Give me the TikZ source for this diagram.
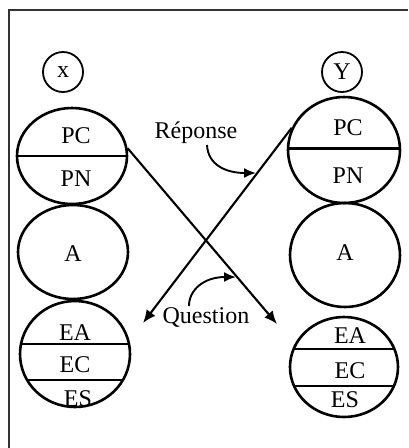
\documentclass[tikz,border=0pt]{standalone}
\usepackage{fontspec}
\setmainfont{Liberation Serif}
\usetikzlibrary{shapes.geometric,arrows.meta}
\begin{document}
\begin{tikzpicture}[x=1pt,y=-1pt,
  cell/.style={draw, ellipse, line width=2.6pt, inner sep=0pt},
  lbl/.style={font=\fontsize{24}{28}\selectfont, anchor=base, inner sep=0pt},
  agent/.style={draw, circle, line width=1.8pt, minimum size=40pt, inner sep=0pt,
                font=\fontsize{24}{28}\selectfont},
  flow/.style={line width=2.1pt, -{Latex[length=13pt,width=11pt]}},
  pointer/.style={line width=1.9pt, -{Latex[length=12pt,width=10pt]}},
  divider/.style={line width=2.4pt},
  frame/.style={line width=1.4pt, draw=black!80}]

\useasboundingbox (0,0) rectangle (408,448);

% open frame: top and left edges
\draw[frame] (9,448) -- (9,10) -- (408,10);

% the two speakers
\node[agent] (x) at (63,72) {x};
\node[agent] (y) at (342,72) {Y};

% left column
\node[cell, minimum width=110pt, minimum height=96pt] (lpc) at (72,156) {};
\node[cell, minimum width=110pt, minimum height=94pt] (la) at (73,252) {};
\node[cell, minimum width=110pt, minimum height=106pt] (le) at (75,354) {};

% right column
\node[cell, minimum width=112pt, minimum height=106pt] (rpc) at (344,150) {};
\node[cell, minimum width=110pt, minimum height=104pt] (ra) at (345,255) {};
\node[cell, minimum width=108pt, minimum height=100pt] (re) at (344,367) {};

% chords splitting the cells
\begin{scope}
  \clip (lpc.center) ellipse [x radius=55, y radius=48];
  \draw[divider] (0,156) -- (150,156);
\end{scope}
\begin{scope}
  \clip (le.center) ellipse [x radius=55, y radius=53];
  \draw[divider] (0,344) -- (150,344);
  \draw[divider] (0,380) -- (150,380);
\end{scope}
\begin{scope}
  \clip (rpc.center) ellipse [x radius=56, y radius=53];
  \draw[divider, line width=3pt] (280,148) -- (410,148);
\end{scope}
\begin{scope}
  \clip (re.center) ellipse [x radius=54, y radius=50];
  \draw[divider] (280,349) -- (410,349);
  \draw[divider] (280,386) -- (410,386);
\end{scope}

% cell labels
\node[lbl] (lpct) at (76,143) {PC};
\node[lbl] (lpnt) at (76,186) {PN};
\node[lbl] (lat)  at (73,261) {A};
\node[lbl] (leat) at (75,340) {EA};
\node[lbl] (lect) at (75,372) {EC};
\node[lbl] (lest) at (78,406) {ES};

\node[lbl] (rpct) at (348,135) {PC};
\node[lbl] (rpnt) at (348,183) {PN};
\node[lbl] (rat)  at (345,260) {A};
\node[lbl] (reat) at (350,343) {EA};
\node[lbl] (rect) at (350,378) {EC};
\node[lbl] (rest) at (345,407) {ES};

% exchanges
\coordinate (qtip) at (277,324);
\coordinate (rtip) at (143,323);
\draw[flow] (lpc.8) -- (qtip);
\draw[flow] (rpc.157) -- (rtip);

% captions with their pointers
\node[lbl] (rep) at (196,138) {Réponse};
\node[lbl] (que) at (206,323) {Question};
\coordinate (repfrom) at (207,145);
\coordinate (repto) at (256,173);
\coordinate (quefrom) at (189,306);
\coordinate (queto) at (236,277);
\draw[pointer] (repfrom) .. controls (208,165) and (226,173) .. (repto);
\draw[pointer] (quefrom) .. controls (189,289) and (205,277) .. (queto);

\end{tikzpicture}
\end{document}
